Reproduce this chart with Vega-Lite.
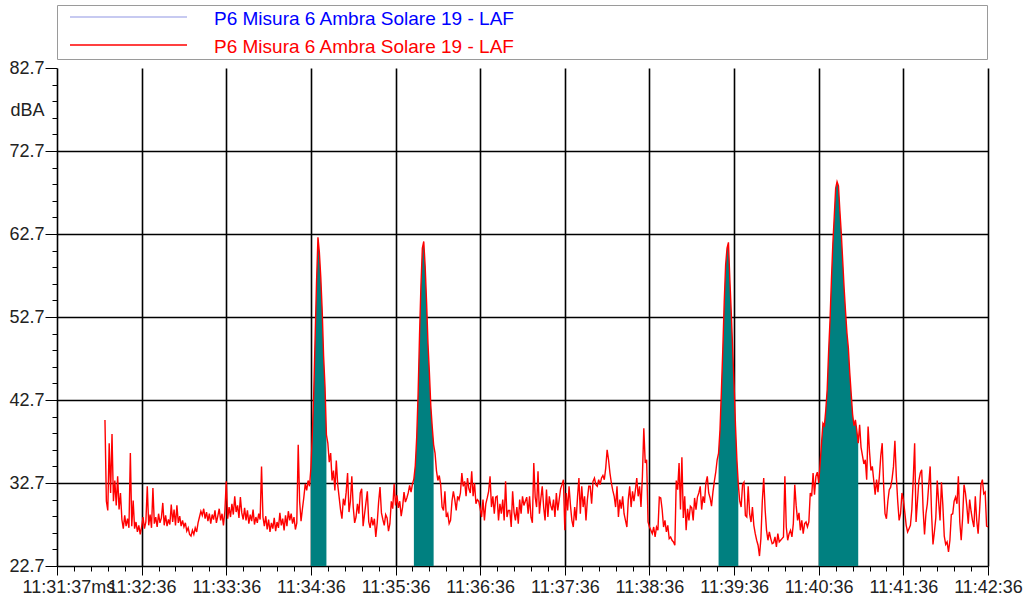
{
"$schema":"https://vega.github.io/schema/vega-lite/v6.json",
"width":931,"height":498,
"autosize":{"type":"none"},
"padding":{"left":57,"top":68,"right":43,"bottom":34},
"background":"#ffffff",
"config":{"view":{"stroke":null},"font":"Liberation Sans"},
"data":{"values":[
{"t":34,"v":40.3},{"t":35,"v":30.5},{"t":36,"v":29.4},{"t":37,"v":37.5},{"t":38,"v":31.5},{"t":39,"v":38.6},{"t":40,"v":30.5},{"t":41,"v":33.0},{"t":42,"v":30.0},{"t":43,"v":33.5},{"t":44,"v":29.5},{"t":45,"v":31.5},{"t":46,"v":28.3},{"t":47,"v":27.2},{"t":48,"v":28.8},{"t":49,"v":27.5},
{"t":50,"v":28.4},{"t":51,"v":27.3},{"t":52,"v":36.3},{"t":53,"v":27.5},{"t":54,"v":30.6},{"t":55,"v":27.2},{"t":56,"v":28.0},{"t":57,"v":26.8},{"t":58,"v":27.6},{"t":59,"v":26.5},
{"t":60,"v":27.4},{"t":61,"v":28.6},{"t":62,"v":27.2},{"t":63,"v":28.0},{"t":64,"v":32.3},{"t":65,"v":27.6},{"t":66,"v":28.9},{"t":67,"v":27.3},{"t":68,"v":32.1},{"t":69,"v":27.8},
{"t":70,"v":28.6},{"t":71,"v":27.4},{"t":72,"v":29.0},{"t":73,"v":27.9},{"t":74,"v":28.5},{"t":75,"v":30.3},{"t":76,"v":27.6},{"t":77,"v":28.8},{"t":78,"v":27.5},{"t":79,"v":28.3},
{"t":80,"v":27.7},{"t":81,"v":30.1},{"t":82,"v":28.0},{"t":83,"v":29.5},{"t":84,"v":27.6},{"t":85,"v":30.0},{"t":86,"v":27.9},{"t":87,"v":28.7},{"t":88,"v":27.5},{"t":89,"v":28.2},
{"t":90,"v":27.4},{"t":91,"v":27.9},{"t":92,"v":26.9},{"t":93,"v":27.3},{"t":94,"v":26.5},{"t":95,"v":26.3},{"t":96,"v":27.0},{"t":97,"v":26.5},{"t":98,"v":27.3},{"t":99,"v":26.8},
{"t":100,"v":27.9},{"t":101,"v":28.6},{"t":102,"v":29.3},{"t":103,"v":28.8},{"t":104,"v":29.6},{"t":105,"v":28.4},{"t":106,"v":29.2},{"t":107,"v":28.1},{"t":108,"v":29.0},{"t":109,"v":27.8},
{"t":110,"v":28.9},{"t":111,"v":28.3},{"t":112,"v":29.4},{"t":113,"v":27.9},{"t":114,"v":28.7},{"t":115,"v":29.6},{"t":116,"v":28.2},{"t":117,"v":29.0},{"t":118,"v":27.6},{"t":119,"v":29.3},
{"t":120,"v":32.9},{"t":121,"v":28.4},{"t":122,"v":29.8},{"t":123,"v":28.6},{"t":124,"v":30.2},{"t":125,"v":28.9},{"t":126,"v":31.1},{"t":127,"v":29.2},{"t":128,"v":30.0},{"t":129,"v":28.5},
{"t":130,"v":31.0},{"t":131,"v":29.1},{"t":132,"v":28.3},{"t":133,"v":29.7},{"t":134,"v":28.2},{"t":135,"v":29.4},{"t":136,"v":27.8},{"t":137,"v":28.9},{"t":138,"v":28.1},{"t":139,"v":29.5},
{"t":140,"v":27.7},{"t":141,"v":28.6},{"t":142,"v":27.9},{"t":143,"v":29.0},{"t":144,"v":28.3},{"t":145,"v":34.7},{"t":146,"v":28.6},{"t":147,"v":27.5},{"t":148,"v":28.7},{"t":149,"v":27.1},
{"t":150,"v":28.3},{"t":151,"v":26.8},{"t":152,"v":27.9},{"t":153,"v":27.2},{"t":154,"v":28.5},{"t":155,"v":26.9},{"t":156,"v":28.0},{"t":157,"v":27.3},{"t":158,"v":29.1},{"t":159,"v":27.6},
{"t":160,"v":28.4},{"t":161,"v":27.0},{"t":162,"v":28.8},{"t":163,"v":27.5},{"t":164,"v":29.3},{"t":165,"v":28.2},{"t":166,"v":29.0},{"t":167,"v":27.8},{"t":168,"v":28.6},{"t":169,"v":27.1},
{"t":170,"v":27.9},{"t":171,"v":37.3},{"t":172,"v":30.5},{"t":173,"v":28.1},{"t":174,"v":29.6},{"t":175,"v":31.0},{"t":176,"v":32.6},{"t":177,"v":31.8},{"t":178,"v":33.0},{"t":179,"v":32.3},
{"t":180,"v":34.5,"e":1},{"t":181,"v":38.5,"e":1},{"t":182,"v":43.5,"e":1},{"t":183,"v":50.3,"e":1},{"t":184,"v":57.0,"e":1},{"t":185,"v":62.3,"e":1},{"t":186,"v":60.5,"e":1},{"t":187,"v":57.5,"e":1},{"t":188,"v":53.5,"e":1},{"t":189,"v":48.0,"e":1},{"t":190,"v":44.3,"e":1},{"t":191,"v":38.5,"e":1},
{"t":192,"v":37.5},{"t":193,"v":35.2},{"t":194,"v":36.3},{"t":195,"v":33.0},{"t":196,"v":34.2},{"t":197,"v":31.8},{"t":198,"v":35.4},{"t":199,"v":32.5},
{"t":200,"v":31.0},{"t":201,"v":29.5},{"t":202,"v":28.4},{"t":203,"v":30.8},{"t":204,"v":30.0},{"t":205,"v":31.6},{"t":206,"v":33.9},{"t":207,"v":29.2},{"t":208,"v":30.5},{"t":209,"v":33.5},
{"t":210,"v":29.8},{"t":211,"v":27.9},{"t":212,"v":28.6},{"t":213,"v":30.2},{"t":214,"v":29.0},{"t":215,"v":31.5},{"t":216,"v":32.0},{"t":217,"v":27.5},{"t":218,"v":28.9},{"t":219,"v":30.3},
{"t":220,"v":31.7},{"t":221,"v":28.0},{"t":222,"v":27.3},{"t":223,"v":28.6},{"t":224,"v":27.6},{"t":225,"v":28.4},{"t":226,"v":26.2},{"t":227,"v":27.9},{"t":228,"v":30.4},{"t":229,"v":32.2},
{"t":230,"v":29.1},{"t":231,"v":28.3},{"t":232,"v":27.6},{"t":233,"v":28.9},{"t":234,"v":28.5},{"t":235,"v":26.9},{"t":236,"v":27.8},{"t":237,"v":30.5},{"t":238,"v":29.6},{"t":239,"v":32.6},
{"t":240,"v":30.0},{"t":241,"v":31.2},{"t":242,"v":29.7},{"t":243,"v":30.5},{"t":244,"v":28.7},{"t":245,"v":29.8},{"t":246,"v":31.6},{"t":247,"v":30.4},{"t":248,"v":30.9},{"t":249,"v":31.5},
{"t":250,"v":32.4},{"t":251,"v":31.6},{"t":252,"v":32.6},
{"t":253,"v":33.2,"e":2},{"t":254,"v":34.8,"e":2},{"t":255,"v":38.2,"e":2},{"t":256,"v":43.5,"e":2},{"t":257,"v":50.5,"e":2},{"t":258,"v":56.5,"e":2},{"t":259,"v":61.0,"e":2},{"t":260,"v":61.8,"e":2},{"t":261,"v":58.8,"e":2},{"t":262,"v":54.5,"e":2},{"t":263,"v":49.5,"e":2},{"t":264,"v":46.0,"e":2},{"t":265,"v":42.0,"e":2},{"t":266,"v":39.5,"e":2},{"t":267,"v":37.3,"e":2},
{"t":268,"v":36.3},{"t":269,"v":34.2},{"t":270,"v":33.0},{"t":271,"v":33.6},{"t":272,"v":32.5},{"t":273,"v":29.8},{"t":274,"v":29.4},{"t":275,"v":31.7},{"t":276,"v":28.6},{"t":277,"v":29.0},{"t":278,"v":27.8},{"t":279,"v":28.2},
{"t":280,"v":30.5},{"t":281,"v":31.7},{"t":282,"v":30.7},{"t":283,"v":29.4},{"t":284,"v":31.1},{"t":285,"v":30.7},{"t":286,"v":31.5},{"t":287,"v":33.9},{"t":288,"v":32.3},{"t":289,"v":32.9},
{"t":290,"v":31.1},{"t":291,"v":33.3},{"t":292,"v":32.0},{"t":293,"v":31.5},{"t":294,"v":34.1},{"t":295,"v":31.1},{"t":296,"v":32.7},{"t":297,"v":30.2},{"t":298,"v":30.7},{"t":299,"v":30.5},
{"t":300,"v":29.6},{"t":301,"v":28.6},{"t":302,"v":30.7},{"t":303,"v":28.2},{"t":304,"v":30.2},{"t":305,"v":30.9},{"t":306,"v":31.7},{"t":307,"v":33.5},{"t":308,"v":29.8},{"t":309,"v":31.1},
{"t":310,"v":29.0},{"t":311,"v":31.0},{"t":312,"v":31.1},{"t":313,"v":28.2},{"t":314,"v":30.2},{"t":315,"v":29.0},{"t":316,"v":30.7},{"t":317,"v":28.2},{"t":318,"v":32.9},{"t":319,"v":28.6},
{"t":320,"v":29.4},{"t":321,"v":29.4},{"t":322,"v":27.4},{"t":323,"v":31.7},{"t":324,"v":29.2},{"t":325,"v":28.2},{"t":326,"v":29.8},{"t":327,"v":27.8},{"t":328,"v":30.7},{"t":329,"v":29.0},
{"t":330,"v":31.1},{"t":331,"v":30.0},{"t":332,"v":30.5},{"t":333,"v":31.0},{"t":334,"v":29.0},{"t":335,"v":31.1},{"t":336,"v":28.6},{"t":337,"v":27.9},{"t":338,"v":35.1},{"t":339,"v":31.0},
{"t":340,"v":29.8},{"t":341,"v":34.1},{"t":342,"v":29.0},{"t":343,"v":30.8},{"t":344,"v":32.3},{"t":345,"v":29.8},{"t":346,"v":28.2},{"t":347,"v":31.9},{"t":348,"v":28.6},{"t":349,"v":31.1},
{"t":350,"v":30.0},{"t":351,"v":29.4},{"t":352,"v":30.7},{"t":353,"v":28.6},{"t":354,"v":31.5},{"t":355,"v":29.4},{"t":356,"v":30.7},{"t":357,"v":32.0},{"t":358,"v":32.5},{"t":359,"v":33.1},
{"t":360,"v":27.0},{"t":361,"v":31.5},{"t":362,"v":29.4},{"t":363,"v":32.3},{"t":364,"v":30.0},{"t":365,"v":28.2},{"t":366,"v":27.4},{"t":367,"v":29.8},{"t":368,"v":28.2},{"t":369,"v":31.0},
{"t":370,"v":33.3},{"t":371,"v":29.0},{"t":372,"v":32.3},{"t":373,"v":29.8},{"t":374,"v":31.1},{"t":375,"v":28.2},{"t":376,"v":30.7},{"t":377,"v":32.3},{"t":378,"v":32.3},{"t":379,"v":30.2},
{"t":380,"v":32.9},{"t":381,"v":33.3},{"t":382,"v":32.5},{"t":383,"v":32.3},{"t":384,"v":33.1},{"t":385,"v":32.5},{"t":386,"v":33.3},{"t":387,"v":33.6},{"t":388,"v":33.1},{"t":389,"v":34.5},
{"t":390,"v":36.7},{"t":391,"v":35.5},{"t":392,"v":33.9},{"t":393,"v":32.7},{"t":394,"v":31.8},{"t":395,"v":31.1},{"t":396,"v":29.8},{"t":397,"v":32.3},{"t":398,"v":28.6},{"t":399,"v":30.7},
{"t":400,"v":29.6},{"t":401,"v":31.1},{"t":402,"v":29.0},{"t":403,"v":28.2},{"t":404,"v":27.4},{"t":405,"v":30.7},{"t":406,"v":32.3},{"t":407,"v":29.8},{"t":408,"v":31.7},{"t":409,"v":30.5},
{"t":410,"v":31.8},{"t":411,"v":33.3},{"t":412,"v":31.1},{"t":413,"v":32.3},{"t":414,"v":29.8},{"t":415,"v":33.5},{"t":416,"v":39.3},{"t":417,"v":35.1},{"t":418,"v":35.5},{"t":419,"v":28.0},
{"t":420,"v":27.4},{"t":421,"v":27.0},{"t":422,"v":26.6},{"t":423,"v":27.4},{"t":424,"v":26.2},{"t":425,"v":27.4},{"t":426,"v":27.0},{"t":427,"v":31.0},{"t":428,"v":30.9},{"t":429,"v":29.5},
{"t":430,"v":27.4},{"t":431,"v":28.2},{"t":432,"v":26.8},{"t":433,"v":27.6},{"t":434,"v":26.0},{"t":435,"v":26.2},{"t":436,"v":25.8},{"t":437,"v":25.6},{"t":438,"v":25.2},{"t":439,"v":33.0},
{"t":440,"v":31.9},{"t":441,"v":35.1},{"t":442,"v":29.5},{"t":443,"v":35.8},{"t":444,"v":28.5},{"t":445,"v":31.1},{"t":446,"v":27.0},{"t":447,"v":29.6},{"t":448,"v":28.2},{"t":449,"v":29.9},
{"t":450,"v":29.7},{"t":451,"v":28.2},{"t":452,"v":30.9},{"t":453,"v":29.5},{"t":454,"v":31.0},{"t":455,"v":31.5},{"t":456,"v":32.3},{"t":457,"v":29.5},{"t":458,"v":31.1},{"t":459,"v":30.3},
{"t":460,"v":32.7},{"t":461,"v":33.5},{"t":462,"v":31.5},{"t":463,"v":30.9},{"t":464,"v":29.9},{"t":465,"v":31.6},{"t":466,"v":32.9},{"t":467,"v":34.0},{"t":468,"v":35.5},
{"t":469,"v":36.3,"e":3},{"t":470,"v":39.1,"e":3},{"t":471,"v":43.8,"e":3},{"t":472,"v":48.8,"e":3},{"t":473,"v":54.5,"e":3},{"t":474,"v":59.0,"e":3},{"t":475,"v":61.0,"e":3},{"t":476,"v":61.7,"e":3},{"t":477,"v":57.2,"e":3},{"t":478,"v":53.2,"e":3},{"t":479,"v":48.8,"e":3},{"t":480,"v":44.5,"e":3},{"t":481,"v":39.6,"e":3},{"t":482,"v":35.5,"e":3},{"t":483,"v":32.5,"e":3},
{"t":484,"v":30.5},{"t":485,"v":29.8},{"t":486,"v":32.5},{"t":487,"v":32.8},{"t":488,"v":28.8},{"t":489,"v":28.6},
{"t":490,"v":32.3},{"t":491,"v":29.0},{"t":492,"v":28.0},{"t":493,"v":29.8},{"t":494,"v":27.6},{"t":495,"v":26.6},{"t":496,"v":25.8},{"t":497,"v":25.2},{"t":498,"v":23.9},{"t":499,"v":26.0},
{"t":500,"v":30.5},{"t":501,"v":33.3},{"t":502,"v":29.5},{"t":503,"v":27.0},{"t":504,"v":25.8},{"t":505,"v":26.8},{"t":506,"v":26.0},{"t":507,"v":25.4},{"t":508,"v":25.5},{"t":509,"v":26.2},
{"t":510,"v":25.0},{"t":511,"v":26.6},{"t":512,"v":25.6},{"t":513,"v":25.8},{"t":514,"v":26.0},{"t":515,"v":26.2},{"t":516,"v":33.5},{"t":517,"v":27.4},{"t":518,"v":25.8},{"t":519,"v":26.6},
{"t":520,"v":27.0},{"t":521,"v":26.2},{"t":522,"v":27.8},{"t":523,"v":32.5},{"t":524,"v":30.0},{"t":525,"v":28.2},{"t":526,"v":29.1},{"t":527,"v":27.0},{"t":528,"v":28.2},{"t":529,"v":26.6},
{"t":530,"v":27.8},{"t":531,"v":28.0},{"t":532,"v":27.4},{"t":533,"v":28.0},{"t":534,"v":31.5},{"t":535,"v":31.1},{"t":536,"v":33.9},{"t":537,"v":31.3},{"t":538,"v":33.5},{"t":539,"v":34.0},
{"t":540,"v":32.7,"e":4},{"t":541,"v":35.1,"e":4},{"t":542,"v":37.5,"e":4},{"t":543,"v":39.9,"e":4},{"t":544,"v":39.6,"e":4},{"t":545,"v":41.5,"e":4},{"t":546,"v":44.0,"e":4},{"t":547,"v":48.5,"e":4},{"t":548,"v":52.3,"e":4},{"t":549,"v":57.2,"e":4},
{"t":550,"v":61.5,"e":4},{"t":551,"v":64.8,"e":4},{"t":552,"v":68.2,"e":4},{"t":553,"v":69.0,"e":4},{"t":554,"v":68.5,"e":4},{"t":555,"v":65.5,"e":4},{"t":556,"v":62.8,"e":4},{"t":557,"v":59.5,"e":4},{"t":558,"v":56.2,"e":4},{"t":559,"v":53.4,"e":4},
{"t":560,"v":50.8,"e":4},{"t":561,"v":49.0,"e":4},{"t":562,"v":46.0,"e":4},{"t":563,"v":43.5,"e":4},{"t":564,"v":41.0,"e":4},{"t":565,"v":39.6,"e":4},{"t":566,"v":40.3,"e":4},{"t":567,"v":39.0,"e":4},{"t":568,"v":37.5,"e":4},
{"t":569,"v":39.7},{"t":570,"v":37.0},{"t":571,"v":36.0},{"t":572,"v":35.0},{"t":573,"v":35.5},{"t":574,"v":33.1},{"t":575,"v":39.5},{"t":576,"v":36.5},{"t":577,"v":34.2},{"t":578,"v":34.7},{"t":579,"v":33.0},
{"t":580,"v":31.3},{"t":581,"v":33.1},{"t":582,"v":31.6},{"t":583,"v":33.5},{"t":584,"v":36.0},{"t":585,"v":37.5},{"t":586,"v":32.5},{"t":587,"v":29.0},{"t":588,"v":28.4},{"t":589,"v":30.5},
{"t":590,"v":31.9},{"t":591,"v":32.2},{"t":592,"v":33.2},{"t":593,"v":34.7},{"t":594,"v":37.8},{"t":595,"v":33.5},{"t":596,"v":30.5},{"t":597,"v":28.2},{"t":598,"v":29.0},{"t":599,"v":31.5},
{"t":600,"v":30.7},{"t":601,"v":29.2},{"t":602,"v":27.6},{"t":603,"v":26.8},{"t":604,"v":27.2},{"t":605,"v":27.6},{"t":606,"v":29.5},{"t":607,"v":33.1},{"t":608,"v":37.5},{"t":609,"v":28.0},
{"t":610,"v":30.5},{"t":611,"v":33.0},{"t":612,"v":33.9},{"t":613,"v":34.3},{"t":614,"v":29.5},{"t":615,"v":26.5},{"t":616,"v":29.0},{"t":617,"v":30.2},{"t":618,"v":32.5},{"t":619,"v":34.7},
{"t":620,"v":29.0},{"t":621,"v":25.3},{"t":622,"v":26.8},{"t":623,"v":28.5},{"t":624,"v":33.0},{"t":625,"v":30.5},{"t":626,"v":28.2},{"t":627,"v":32.8},{"t":628,"v":30.0},{"t":629,"v":26.3},
{"t":630,"v":25.3},{"t":631,"v":25.6},{"t":632,"v":24.4},{"t":633,"v":25.8},{"t":634,"v":28.9},{"t":635,"v":29.0},{"t":636,"v":30.5},{"t":637,"v":31.0},{"t":638,"v":30.2},{"t":639,"v":33.5},
{"t":640,"v":28.0},{"t":641,"v":25.8},{"t":642,"v":28.5},{"t":643,"v":32.5},{"t":644,"v":31.5},{"t":645,"v":29.9},{"t":646,"v":27.8},{"t":647,"v":30.7},{"t":648,"v":29.3},{"t":649,"v":28.2},
{"t":650,"v":27.4},{"t":651,"v":31.1},{"t":652,"v":28.2},{"t":653,"v":26.6},{"t":654,"v":29.3},{"t":655,"v":32.5},{"t":656,"v":33.1},{"t":657,"v":31.4},{"t":658,"v":31.6},{"t":659,"v":27.5},{"t":660,"v":27.4}
]},
"encoding":{
"x":{"field":"t","type":"quantitative","scale":{"domain":[0,660],"nice":false,"zero":false},
"axis":{"values":[0,12,24,36,48,60,72,84,96,108,120,132,144,156,168,180,192,204,216,228,240,252,264,276,288,300,312,324,336,348,360,372,384,396,408,420,432,444,456,468,480,492,504,516,528,540,552,564,576,588,600,612,624,636,648,660],
"title":null,"grid":true,
"gridColor":{"condition":{"test":"datum.value % 60 == 0 && datum.value > 0","value":"#000000"},"value":"transparent"},
"gridWidth":1.6,"domainColor":"#000000","domainWidth":1.6,"tickColor":"#000000","tickWidth":1,
"tickSize":{"condition":{"test":"datum.value % 60 == 0","value":9},"value":5},
"labelExpr":"datum.value == 0 ? '11:31:37ms' : (datum.value % 60 == 0 ? '11:' + (31 + datum.value/60) + ':36' : '')",
"labelAlign":{"condition":{"test":"datum.value == 0","value":"left"},"value":"center"},
"labelOffset":{"condition":{"test":"datum.value == 0","value":-35},"value":0},
"labelOverlap":false,"labelFlush":false,"labelBound":false,
"labelFont":"Liberation Sans","labelFontSize":18,"labelColor":"#222222","labelPadding":3}},
"y":{"field":"v","type":"quantitative","scale":{"domain":[22.7,82.7],"nice":false,"zero":false},
"axis":{"values":[22.7,24.7,26.7,28.7,30.7,32.7,34.7,36.7,38.7,40.7,42.7,44.7,46.7,48.7,50.7,52.7,54.7,56.7,58.7,60.7,62.7,64.7,66.7,68.7,70.7,72.7,74.7,76.7,78.7,80.7,82.7],
"title":"dBA","titleAngle":0,"titleAlign":"right","titleBaseline":"middle","titleX":-13,"titleY":42,"titleFont":"Liberation Sans","titleFontSize":18,"titleFontWeight":"normal","titleColor":"#222222",
"grid":true,
"gridColor":{"condition":{"test":"round(datum.value*10) % 100 == 27 && datum.value > 25 && datum.value < 80","value":"#000000"},"value":"transparent"},
"gridWidth":1.6,"domainColor":"#000000","domainWidth":1.6,"tickColor":"#000000","tickWidth":1,
"tickSize":{"condition":{"test":"round(datum.value*10) % 100 == 27","value":12},"value":5},
"labelExpr":"round(datum.value*10) % 100 == 27 ? format(datum.value, '.1f') : ''",
"labelOverlap":false,"labelBound":false,"labelFlush":false,
"labelFont":"Liberation Sans","labelFontSize":18,"labelColor":"#222222","labelPadding":1}}
},
"layer":[
{"transform":[{"filter":"datum.e > 0"}],
 "mark":{"type":"area","color":"#008080","interpolate":"linear"},
 "encoding":{"detail":{"field":"e","type":"nominal"},"y2":{"datum":22.7}}},
{"mark":{"type":"line","strokeWidth":1.4,"interpolate":"linear"},
 "encoding":{"color":{"datum":"rosso","type":"nominal","scale":{"domain":["blu","rosso"],"range":["#b4b8ec","#ff0000"]},
 "legend":{"orient":"none","legendX":0,"legendY":-63,"direction":"vertical","title":null,
 "symbolType":"stroke","symbolSize":13689,"symbolStrokeWidth":1.3,"symbolOffset":10,"clipHeight":20,
 "labelFont":"Liberation Sans","labelFontSize":19,"labelOffset":26,"labelLimit":1500,
 "labelExpr":"pad('P6 Misura 6 Ambra Solare 19 - LAF', 122, '\u00a0') + '\u200b'",
 "strokeColor":"#9a9a9a","fillColor":"#ffffff","padding":2,"rowPadding":6,
 "encode":{"labels":{"update":{"fill":{"signal":"datum.value == 'blu' ? '#0000ff' : '#ff0000'"},"dy":{"value":2}}}}}}}}
]
}
